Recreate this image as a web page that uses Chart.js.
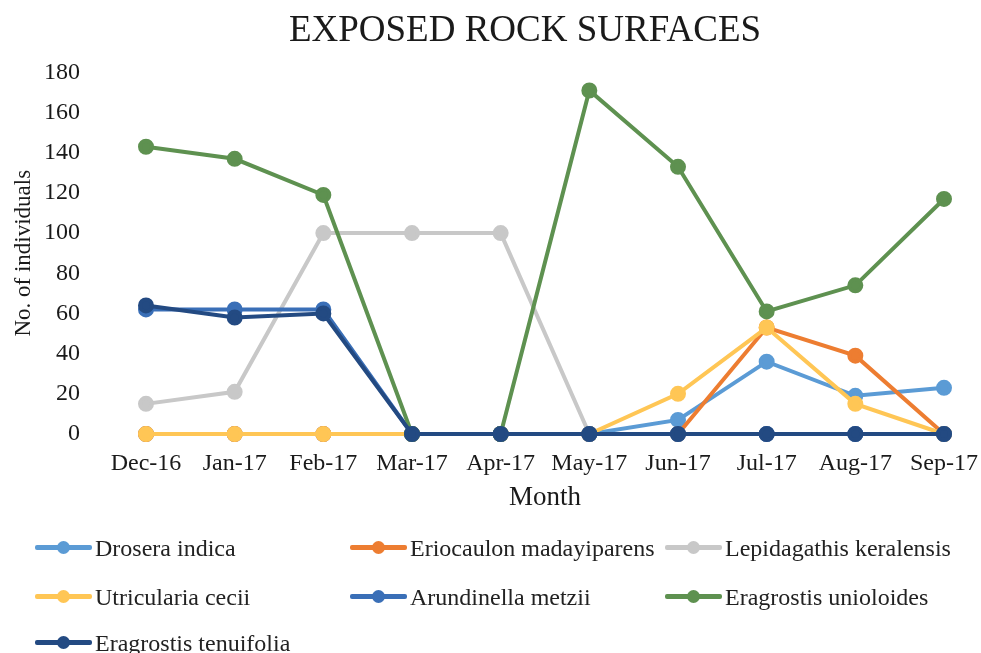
<!DOCTYPE html>
<html>
<head>
<meta charset="utf-8">
<script src="https://cdn.jsdelivr.net/npm/chart.js@4/dist/chart.umd.min.js"></script>
<style>
    body { margin: 0; background: #fff; }
    #wrap { position: relative; width: 981px; height: 653px; }
    #legend { position: absolute; left: 0; top: 0; width: 981px; height: 653px; pointer-events: none;
        font-family: "Liberation Serif", "DejaVu Serif", serif; font-size: 24px; color: #222; }
    .item { position: absolute; height: 24px; line-height: 24px; white-space: nowrap; }
    .mark { position: absolute; left: 0; top: 9px; width: 57px; height: 5px; border-radius: 2px; }
    .dot { position: absolute; left: 22px; top: 5px; width: 13px; height: 13px; border-radius: 50%; }
    .txt { position: absolute; left: 60px; top: 0; }
</style>
</head>
<body>
<div id="wrap">
    <canvas id="canvas" width="981" height="653"></canvas>
    <div id="legend"></div>
</div>
<script>
// Dữ liệu
const months = ['Dec-16', 'Jan-17', 'Feb-17', 'Mar-17', 'Apr-17', 'May-17', 'Jun-17', 'Jul-17', 'Aug-17', 'Sep-17'];

const drosera      = [0, 0, 0, 0, 0, 0, 7, 36, 19, 23];
const eriocaulon   = [0, 0, 0, 0, 0, 0, 0, 53, 39, 0];
const lepidagathis = [15, 21, 100, 100, 100, 0, 0, 0, 0, 0];
const utricularia  = [0, 0, 0, 0, 0, 0, 20, 53, 15, 0];
const arundinella  = [62, 62, 62, 0, 0, 0, 0, 0, 0, 0];
const unioloides   = [143, 137, 119, 0, 0, 171, 133, 61, 74, 117];
const tenuifolia   = [64, 58, 60, 0, 0, 0, 0, 0, 0, 0];

const yTicks = [0, 20, 40, 60, 80, 100, 120, 140, 160, 180];

const series = [
    { name: 'Drosera indica', values: drosera, color: '#5b9bd5' },
    { name: 'Eriocaulon madayiparens', values: eriocaulon, color: '#ed7d31' },
    { name: 'Lepidagathis keralensis', values: lepidagathis, color: '#c8c8c8' },
    { name: 'Utricularia cecii', values: utricularia, color: '#ffc655' },
    { name: 'Arundinella metzii', values: arundinella, color: '#3a6fb7' },
    { name: 'Eragrostis unioloides', values: unioloides, color: '#5e9150' },
    { name: 'Eragrostis tenuifolia', values: tenuifolia, color: '#234a82' }
];

const serif = '"Liberation Serif", "DejaVu Serif", serif';
const ink = '#1a1a1a';

/**
 * Chú thích dạng lưới 3 cột bên dưới.
 */
function buildLegend() {
    const cols = [35, 350, 665];
    const rows = [536, 585, 631];
    let html = '';
    series.forEach((s, i) => {
        const x = cols[i % 3], y = rows[Math.floor(i / 3)];
        html += '<div class="item" style="left:' + x + 'px;top:' + y + 'px">' +
            '<div class="mark" style="background:' + s.color + '"></div>' +
            '<div class="dot" style="background:' + s.color + '"></div>' +
            '<span class="txt">' + s.name + '</span></div>';
    });
    document.getElementById('legend').innerHTML = html;
}

// Dời tiêu đề sang phải một chút như ảnh gốc
const shiftTitle = {
    id: 'shiftTitle',
    afterLayout(chart) {
        if (chart.titleBlock) chart.titleBlock.left += 100;
    }
};

const config = {
    type: 'line',
    data: {
        labels: months,
        datasets: series.map((s, i) => ({
            label: s.name,
            data: s.values,
            borderColor: s.color,
            backgroundColor: s.color,
            pointBackgroundColor: s.color,
            pointBorderColor: s.color,
            borderWidth: 4,
            pointRadius: 6,
            tension: 0,
            clip: false,
            order: series.length - i   // series sau vẽ đè lên trên
        }))
    },
    options: {
        responsive: false,
        animation: false,
        layout: { padding: { left: 6, right: 37, top: 0, bottom: 139 } },
        plugins: {
            legend: { display: false },
            tooltip: { enabled: false },
            title: {
                display: true,
                text: 'EXPOSED ROCK SURFACES',
                color: ink,
                font: { family: serif, size: 37, weight: 'normal' },
                padding: { top: 9, bottom: 19 }
            }
        },
        scales: {
            x: {
                offset: false,
                afterFit: axis => {
                    axis.height = 80;
                    axis.paddingLeft = 0;
                    axis.paddingRight = 0;
                },
                grid: { display: false, drawTicks: false },
                border: { display: false },
                ticks: { color: ink, font: { family: serif, size: 24 }, padding: 15, maxRotation: 0, autoSkip: false },
                title: { display: true, text: 'Month', color: ink, font: { family: serif, size: 27 }, padding: { top: 4, bottom: 0 } }
            },
            y: {
                min: 0,
                max: 180,
                afterBuildTicks: axis => { axis.ticks = yTicks.map(v => ({ value: v })); },
                afterFit: axis => {
                    axis.width = 140;
                    axis.paddingTop = 0;
                    axis.paddingBottom = 0;
                },
                grid: { display: false, drawTicks: false },
                border: { display: false },
                ticks: { color: ink, font: { family: serif, size: 24 }, padding: 66 },
                title: { display: true, text: 'No. of individuals', color: ink, font: { family: serif, size: 23 }, padding: { top: 4, bottom: 4 } }
            }
        }
    },
    plugins: [shiftTitle]
};

function init() {
    buildLegend();
    new Chart('canvas', config);
}

init();
</script>
</body>
</html>
